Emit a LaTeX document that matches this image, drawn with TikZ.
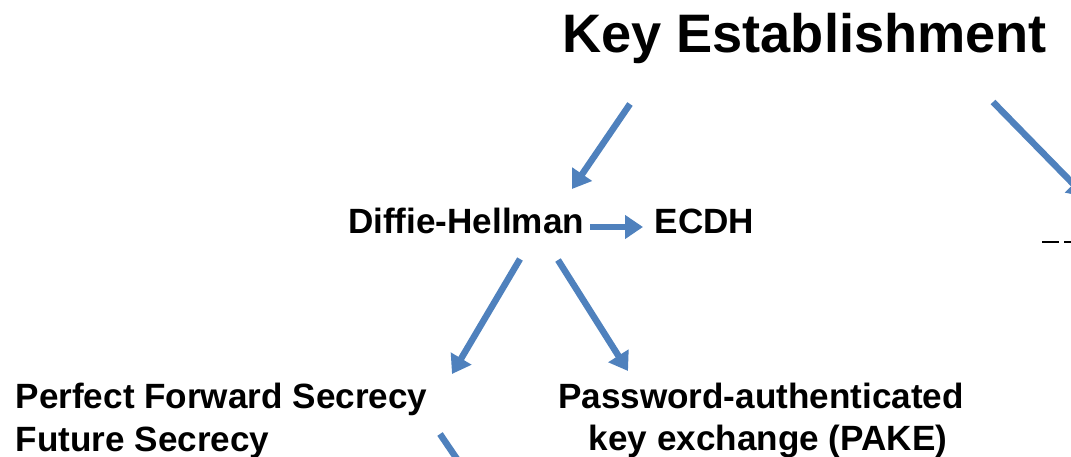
\documentclass[tikz,border=0pt]{standalone}
\usepackage{fontspec}
\setmainfont{Liberation Sans}
\usetikzlibrary{arrows.meta}
\definecolor{arrowblue}{HTML}{4F81BD}
\tikzset{
  lbl/.style={inner sep=0pt, font=\bfseries\fontsize{35.1}{31.5}\selectfont},
  ttl/.style={inner sep=0pt, font=\bfseries\fontsize{54.2}{60}\selectfont},
  bluearrow/.style={draw=arrowblue, line width=6.5pt, -{Triangle[length=18pt,width=23pt]}}
}
\begin{document}
\begin{tikzpicture}[x=1pt,y=-1pt]
\useasboundingbox (0,0) rectangle (1071,457);
\clip (0,0) rectangle (1071,457);
% texts
\node[ttl, anchor=base] (ke) at (804.5,53) {Key Establishment};
\node[lbl, anchor=base] (dh) at (466,234) {Diffie-Hellman};
\node[lbl, anchor=base] (ecdh) at (704.5,234) {ECDH};
\node[lbl, anchor=base west] (pfs) at (15.5,408) {Perfect Forward Secrecy};
\node[lbl, anchor=base west] (fs) at (15.5,451) {Future Secrecy};
\node[lbl, anchor=base] (pake) at (761,408) {Password-authenticated};
\node[lbl, anchor=base] (kex) at (768,450) {key exchange (PAKE)};
% partial text fragment at right edge
\fill (1042,241) rectangle (1059,243);
\fill (1064,241) rectangle (1071,243);
% arrow end points
\coordinate (a1s) at (630,104);
\coordinate (a1e) at (572,189);
\coordinate (a2s) at (993,102);
\coordinate (a2e) at (1086,197);
\coordinate (a3s) at (590,227);
\coordinate (a3e) at (643,227);
\coordinate (a4s) at (520,259);
\coordinate (a4e) at (452,374);
\coordinate (a5s) at (558,260);
\coordinate (a5e) at (628,371);
\coordinate (a6s) at (440,434);
\coordinate (a6e) at (478,490);
% arrows
\draw[bluearrow] (a1s) -- (a1e);
\draw[bluearrow] (a2s) -- (a2e);
\draw[bluearrow] (a3s) -- (a3e);
\draw[bluearrow] (a4s) -- (a4e);
\draw[bluearrow] (a5s) -- (a5e);
\draw[bluearrow] (a6s) -- (a6e);
\end{tikzpicture}
\end{document}
